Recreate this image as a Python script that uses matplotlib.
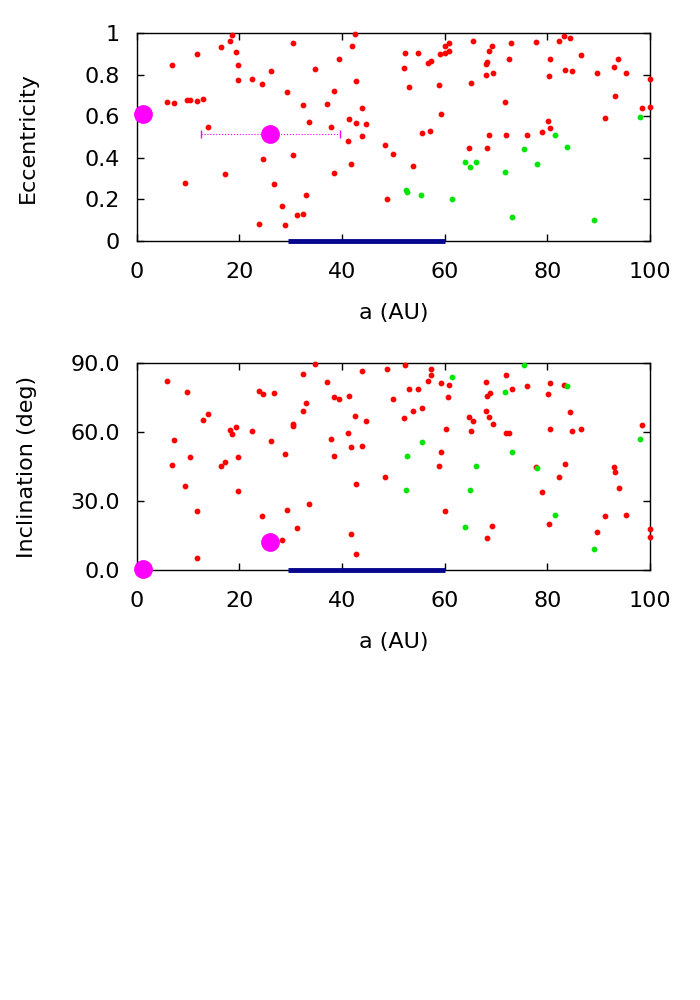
import matplotlib
matplotlib.use("Agg")
import matplotlib.pyplot as plt

plt.rcParams["font.family"] = ["DejaVu Sans"]
plt.rcParams["font.size"] = 16

# --- eccentricity panel ---
red_a_e = [18.5, 18.2, 16.5, 19.3, 11.7, 30.4, 42.6, 41.9, 39.4, 6.9, 19.7, 34.7, 26.1, 22.4,
           19.7, 24.4, 42.7, 29.4, 38.5, 6.0, 7.3, 9.8, 10.5, 11.7, 13.0, 32.4, 37.1, 43.9,
           41.3, 42.7, 44.7, 33.6, 37.8, 13.9, 44.0, 41.1, 48.4, 49.9, 24.7, 30.4, 41.8, 38.5,
           17.2, 9.4, 26.7, 33.0, 48.7, 28.3, 32.4, 31.3, 23.9, 29.0,
           52.3, 52.0, 53.1, 54.9, 53.8, 55.5, 57.2, 56.8, 57.3, 59.1, 58.9, 59.2, 60.0, 60.9,
           60.1, 60.8, 65.6, 65.1, 64.7, 68.3, 68.7, 68.0, 68.2, 68.1, 68.6, 69.3, 69.5, 71.7,
           72.0, 72.5, 72.9, 76.1, 77.8, 79.0, 80.1, 80.6, 80.3, 80.6, 82.2, 83.3, 84.5, 83.4,
           84.8, 86.6, 89.7, 91.3, 93.0, 93.8, 93.1, 95.3, 98.4, 99.9, 99.9]
red_e = [0.992, 0.963, 0.936, 0.908, 0.902, 0.955, 0.997, 0.941, 0.878, 0.846, 0.848, 0.828,
         0.817, 0.778, 0.774, 0.756, 0.769, 0.716, 0.721, 0.669, 0.663, 0.681, 0.681, 0.673,
         0.684, 0.655, 0.658, 0.642, 0.586, 0.570, 0.563, 0.573, 0.547, 0.549, 0.506, 0.482,
         0.462, 0.421, 0.396, 0.413, 0.371, 0.327, 0.321, 0.278, 0.273, 0.222, 0.202, 0.170,
         0.130, 0.124, 0.082, 0.077,
         0.905, 0.831, 0.743, 0.907, 0.360, 0.522, 0.530, 0.857, 0.865, 0.902, 0.751, 0.610,
         0.941, 0.953, 0.905, 0.917, 0.963, 0.762, 0.446, 0.448, 0.509, 0.799, 0.860, 0.854,
         0.917, 0.937, 0.809, 0.668, 0.509, 0.876, 0.952, 0.512, 0.957, 0.526, 0.579, 0.543,
         0.793, 0.876, 0.961, 0.987, 0.976, 0.822, 0.820, 0.897, 0.807, 0.594, 0.836, 0.878,
         0.697, 0.809, 0.639, 0.778, 0.647]
green_a_e = [52.5, 52.6, 55.4, 61.4, 63.9, 65.0, 66.2, 71.7, 73.1, 75.4, 78.0, 81.4, 83.9,
             89.0, 98.1]
green_e = [0.244, 0.238, 0.223, 0.201, 0.382, 0.355, 0.382, 0.332, 0.116, 0.443, 0.369,
           0.512, 0.453, 0.100, 0.597]

# --- inclination panel ---
red_a_i = [34.7, 5.9, 9.8, 23.9, 24.7, 26.7, 32.4, 37.1, 44.0, 48.7, 33.0, 38.5, 39.4, 41.3,
           49.9, 32.4, 13.9, 13.0, 30.4, 30.4, 42.6, 44.7, 18.2, 19.3, 18.6, 22.5, 41.1, 7.3,
           26.1, 37.8, 41.8, 43.9, 10.4, 6.9, 17.2, 16.5, 19.7, 29.0, 38.5, 9.4, 19.7, 42.7,
           48.4, 33.6, 11.7, 29.4, 24.4, 31.3, 41.8, 28.3, 11.7, 42.7,
           52.3, 57.4, 57.3, 59.2, 53.1, 54.9, 56.8, 60.9, 60.7, 53.8, 55.5, 52.0, 60.2, 59.2,
           58.9, 60.0, 68.0, 72.0, 73.2, 68.8, 68.2, 76.1, 80.6, 83.3, 80.1, 68.1, 68.6, 69.5,
           64.7, 65.6, 65.1, 72.0, 72.6, 84.5, 80.6, 84.9, 86.6, 98.4, 77.8, 83.4, 82.2, 79.0,
           93.0, 93.1, 93.9, 91.2, 95.3, 80.3, 69.3, 68.3, 89.7, 99.9, 99.9]
red_i = [89.9, 82.2, 77.7, 78.1, 76.8, 76.9, 85.5, 81.7, 86.5, 87.5, 72.7, 75.3, 74.6, 75.9,
         74.3, 69.1, 67.9, 65.5, 63.4, 62.7, 67.2, 64.9, 61.0, 62.3, 59.4, 60.5, 59.8, 56.8,
         56.3, 57.0, 53.6, 54.0, 49.2, 45.9, 47.0, 45.1, 49.2, 50.4, 49.6, 36.6, 34.4, 37.3,
         40.4, 28.9, 25.8, 26.3, 23.5, 18.3, 15.7, 13.1, 5.4, 7.1,
         89.3, 87.5, 85.1, 81.4, 78.6, 78.9, 82.5, 80.7, 75.2, 69.3, 70.7, 66.0, 61.2, 51.2,
         45.2, 25.6, 81.9, 84.9, 78.8, 77.2, 75.9, 80.0, 81.4, 80.6, 76.6, 69.1, 66.8, 63.4,
         66.5, 64.7, 60.4, 59.5, 59.6, 68.7, 61.3, 60.7, 61.3, 63.3, 44.7, 46.3, 40.4, 33.8,
         44.9, 42.5, 35.9, 23.5, 23.8, 20.2, 19.0, 14.1, 16.4, 17.9, 14.5]
green_a_i = [75.4, 61.5, 71.7, 83.9, 55.5, 52.7, 73.1, 66.2, 78.0, 52.5, 65.0, 63.9, 81.4,
             89.0, 98.1]
green_i = [89.4, 84.0, 77.5, 80.3, 55.7, 49.5, 51.4, 45.1, 44.6, 35.0, 35.0, 18.6, 24.1,
           9.3, 57.2]

# planets (magenta) and the a-range bar
planet_a = [1.3, 26.0]
planet_e = [0.613, 0.517]
planet_i = [0.3, 12.2]
planet_a_lo = 12.5   # range for the second planet
planet_a_hi = 39.6
belt_a = [29.5, 60.0]


def style_axes(ax):
    ax.set_xlim(0, 100)
    ax.set_xticks([0, 20, 40, 60, 80, 100])
    ax.tick_params(direction="in", length=5, width=1, top=True, right=True)
    ax.tick_params(axis="x", pad=15)
    ax.tick_params(axis="y", pad=12)
    for sp in ax.spines.values():
        sp.set_linewidth(1)
    ax.set_xlabel("a (AU)")
    ax.xaxis.set_label_coords(0.5, -0.30)
    ax.yaxis.set_label_coords(-0.193, 0.5)


fig = plt.figure(figsize=(7, 10), dpi=100)

ax1 = fig.add_axes([0.195, 0.759, 0.7336, 0.2077])
ax1.scatter(red_a_e, red_e, s=10, color="#ff0000", clip_on=False, zorder=3)
ax1.scatter(green_a_e, green_e, s=10, color="#00e600", clip_on=False, zorder=3)
eb = ax1.errorbar(planet_a[1], planet_e[1],
                  xerr=[[planet_a[1] - planet_a_lo], [planet_a_hi - planet_a[1]]],
                  fmt="none", ecolor="#ff00ff", elinewidth=0.8, capsize=3, zorder=2)
eb[2][0].set_linestyle(":")
ax1.plot(planet_a, planet_e, "o", color="#ff00ff", markersize=12.5, clip_on=False, zorder=4)
ax1.plot(belt_a, [0, 0], color="#06068f", linewidth=3.5, clip_on=False, zorder=5,
         solid_capstyle="butt")
ax1.set_ylim(0, 1)
ax1.set_yticks([0, 0.2, 0.4, 0.6, 0.8, 1.0])
ax1.set_yticklabels(["0", "0.2", "0.4", "0.6", "0.8", "1"])
ax1.set_ylabel("Eccentricity")
style_axes(ax1)

ax2 = fig.add_axes([0.195, 0.430, 0.7336, 0.2067])
ax2.scatter(red_a_i, red_i, s=10, color="#ff0000", clip_on=False, zorder=3)
ax2.scatter(green_a_i, green_i, s=10, color="#00e600", clip_on=False, zorder=3)
ax2.plot(planet_a, planet_i, "o", color="#ff00ff", markersize=12.5, clip_on=False, zorder=4)
ax2.plot(belt_a, [0, 0], color="#06068f", linewidth=3.5, clip_on=False, zorder=5,
         solid_capstyle="butt")
ax2.set_ylim(0, 90)
ax2.set_yticks([0, 30, 60, 90])
ax2.set_yticklabels(["0.0", "30.0", "60.0", "90.0"])
ax2.set_ylabel("Inclination (deg)")
style_axes(ax2)

fig.savefig("out.png", dpi=100)
